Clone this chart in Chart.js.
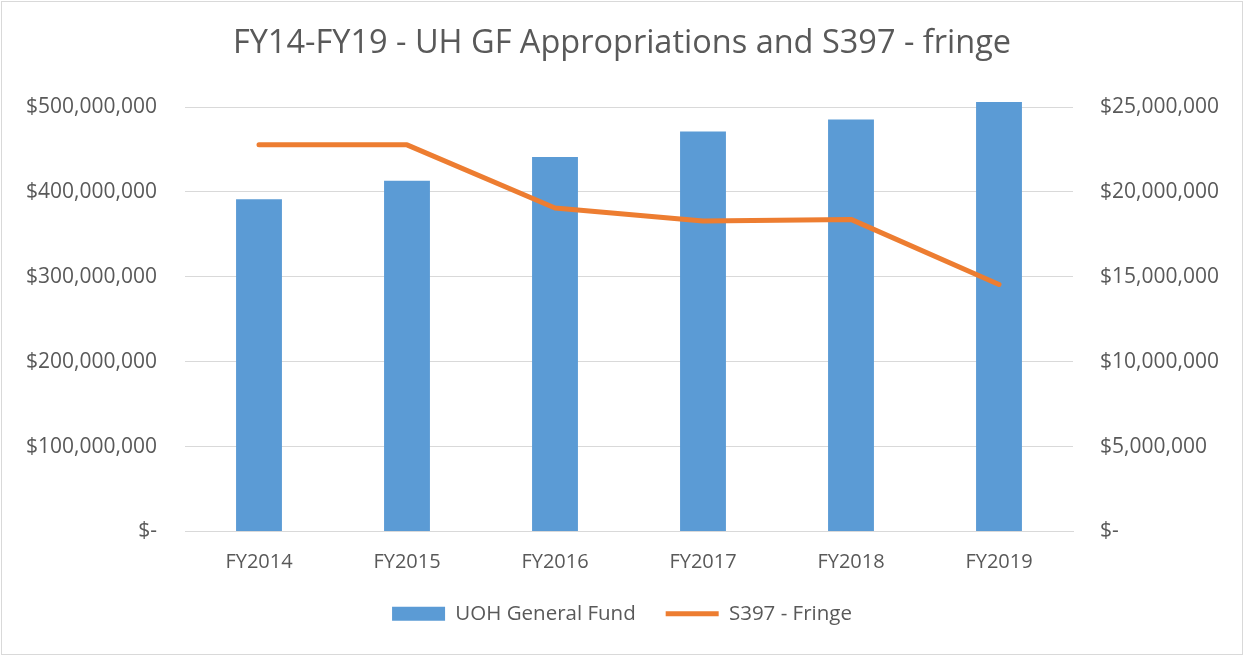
<!DOCTYPE html>
<html>
<head>
<meta charset="utf-8">
<script src="https://cdn.jsdelivr.net/npm/chart.js@4"></script>
<style>
  html, body { margin: 0; padding: 0; background: #fff; }
  #wrap { width: 1244px; height: 656px; position: relative; }
</style>
</head>
<body>
<div id="wrap"><canvas id="c" width="1244" height="656"></canvas></div>
<script>
const categories = ["FY2014", "FY2015", "FY2016", "FY2017", "FY2018", "FY2019"];
const generalFund = [391300000, 413200000, 441200000, 471000000, 485200000, 506000000];
const fringe = [22770000, 22770000, 19050000, 18280000, 18380000, 14550000];
const leftTicks = [0, 100000000, 200000000, 300000000, 400000000, 500000000];
const rightTicks = [0, 5000000, 10000000, 15000000, 20000000, 25000000];

const FONT = "'Open Sans', sans-serif";
const GREY = "#595959";

function money(v) {
  if (v === 0) return "$-";
  return "$" + Math.round(v).toLocaleString("en-US");
}

const bgPlugin = {
  id: "bg",
  beforeDraw(chart) {
    const ctx = chart.ctx;
    ctx.save();
    ctx.fillStyle = "#fff";
    ctx.fillRect(0, 0, chart.width, chart.height);
    ctx.strokeStyle = "#d9d9d9";
    ctx.lineWidth = 1;
    ctx.strokeRect(1.5, 1.5, chart.width - 3, chart.height - 3);
    ctx.restore();
  }
};

new Chart(document.getElementById("c"), {
  data: {
    labels: categories,
    datasets: [
      {
        type: "line",
        label: "S397 - Fringe",
        data: fringe,
        yAxisID: "y2",
        borderColor: "#ED7D31",
        backgroundColor: "#ED7D31",
        borderWidth: 5,
        pointRadius: 0,
        borderCapStyle: "round",
        borderJoinStyle: "round",
        tension: 0,
        clip: false,
        order: 0
      },
      {
        type: "bar",
        label: "UOH General Fund",
        data: generalFund,
        yAxisID: "y",
        backgroundColor: "#5B9BD5",
        borderWidth: 0,
        categoryPercentage: 1,
        barPercentage: 0.31,
        clip: false,
        order: 1
      }
    ]
  },
  options: {
    responsive: false,
    animation: false,
    layout: { padding: { left: 0, right: 0, top: 0, bottom: 22 } },
    plugins: {
      title: {
        display: true,
        text: "FY14-FY19 - UH GF Appropriations and S397 - fringe",
        color: GREY,
        font: { family: FONT, size: 32.5, weight: "normal" },
        padding: { top: 24, bottom: 44 }
      },
      legend: {
        position: "bottom",
        reverse: true,
        labels: {
          color: GREY,
          font: { family: FONT, size: 20.5 },
          usePointStyle: true,
          pointStyleWidth: 53,
          boxHeight: 14,
          padding: 30,
          generateLabels(chart) {
            return chart.data.datasets.map((ds, i) => ({
              text: ds.label,
              fillStyle: ds.backgroundColor,
              strokeStyle: ds.type === "line" ? ds.borderColor : ds.backgroundColor,
              lineWidth: ds.type === "line" ? 5 : 0,
              pointStyle: ds.type === "line" ? "line" : "rect",
              datasetIndex: i,
              hidden: false,
              fontColor: GREY
            }));
          }
        }
      },
      tooltip: { enabled: false }
    },
    scales: {
      x: {
        grid: { display: false, drawTicks: false },
        border: { display: true, color: "#d9d9d9", width: 1 },
        ticks: { color: GREY, font: { family: FONT, size: 20 }, padding: 19 },
        afterFit(s) { s.height = 42; }
      },
      y: {
        position: "left",
        min: 0,
        max: 500000000,
        afterBuildTicks(s) { s.ticks = leftTicks.map(v => ({ value: v })); },
        grid: { color: "#d9d9d9", lineWidth: 1, drawTicks: false },
        border: { display: false },
        ticks: { color: GREY, font: { family: FONT, size: 21 }, padding: 28, callback: v => money(v) },
        afterFit(s) { s.width = 185; }
      },
      y2: {
        position: "right",
        min: 0,
        max: 25000000,
        afterBuildTicks(s) { s.ticks = rightTicks.map(v => ({ value: v })); },
        grid: { display: false, drawTicks: false },
        border: { display: false },
        ticks: { color: GREY, font: { family: FONT, size: 21 }, padding: 27, callback: v => money(v) },
        afterFit(s) { s.width = 171; }
      }
    }
  },
  plugins: [bgPlugin]
});
</script>
</body>
</html>
